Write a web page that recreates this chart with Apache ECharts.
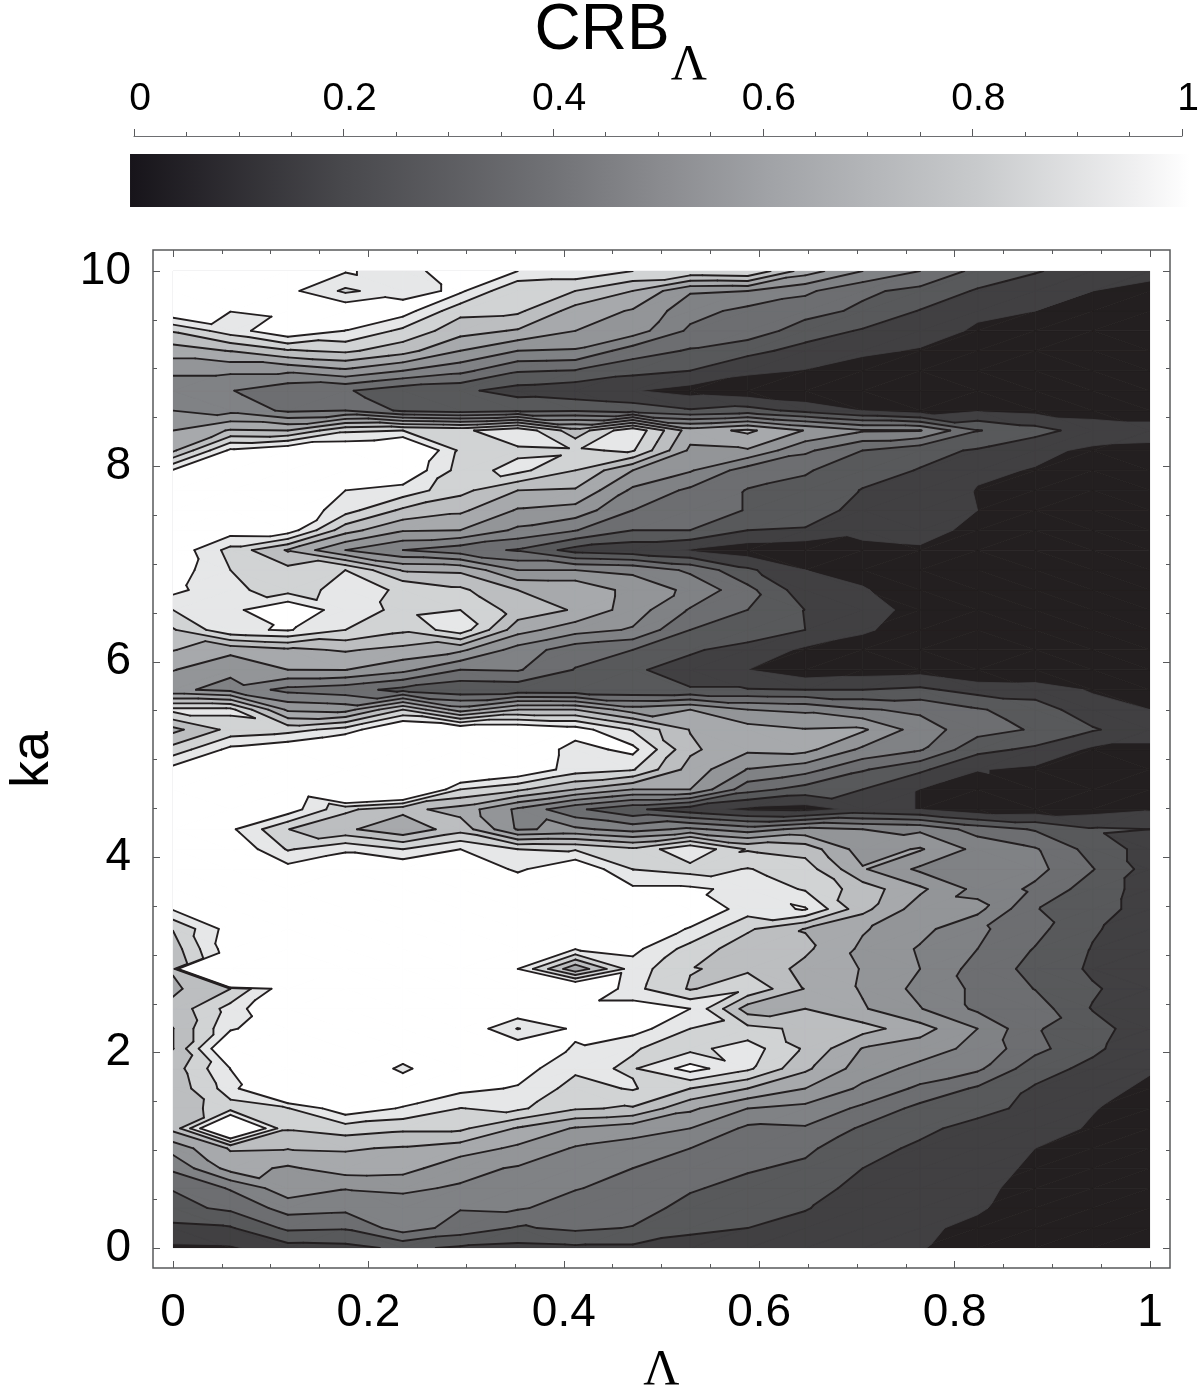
<!DOCTYPE html>
<html>
<head>
<meta charset="utf-8">
<style>
  html, body { margin: 0; padding: 0; background: #fff; }
  #chart { width: 1200px; height: 1393px; }
</style>
<script src="https://cdn.jsdelivr.net/npm/echarts@6/dist/echarts.min.js"></script>
</head>
<body>
<div id="chart"></div>
<script>
// CRB over the (lambda, ka) mesh, one array per lambda, bottom row (ka = 0) first.
// values are in contour steps: a contour line sits on every whole number from 1 to 10
const crb00 = [.8,1.75,2.7,3.05,4.2,5.4,7.3,7.35,7.3,7.5, 6.98,6.98,7.3,6.8,7.1,7.5,8.05,10.1,10.6,10.8, 11,11,11,10.8,10.4,8.4,6.7,9.3,5.2,6.05, 7.05,7.9,9,10.3,10.6,10.8,11,11,10.8,10.1, 6.8,6,5,4.4,5.2,6.5,8.1,11,10.4,10.2]
const crb01 = [.85,1.9,3.2,4.1,6.4,7.1,13,8.6,9.5,10.02, 11.5,9.85,9.4,8,40,10.7,10.5,10.5,11,11, 11,10.2,11,10.8,10.6,10.3,8.3,9.3,4.7,5.2, 6.3,9.8,9.7,9.2,9,8.65,10.55,11,11,10.8, 10.2,7.1,4.7,4.05,5.2,7.05,9.5,10.02,10.6,10.8]
const crb02 = [1.6,3.2,4.4,5.6,5.85,7.05,8.1,8.95,13,12, 12,11,11.5,10.8,45,10.8,10.8,11,11,10.4, 8.9,8.02,10.6,11,11,10.9,8.6,5.8,3.7,6, 6.8,10.1,11,8.6,8.3,6.9,10.6,11,11,11, 10.9,7,3.8,3.3,5.2,7.9,10.9,10.2,10.3,10.8]
const crb03 = [1.7,3.1,4.25,5.05,6.5,7.1,8.5,10.7,11.5,11.5, 11.5,11.5,11.5,11.5,11.5,11,11,11,11,11, 9.8,7.2,8.2,14,11.5,12,9.4,5.6,3.4,6.02, 7.1,9,9.4,9.3,9,5,7.4,9.4,10,11, 11,8.8,4,3.1,5.8,8.2,9.98,10.9,8.8,10.1]
const crb04 = [2.2,4.5,4.6,5.15,6.4,6.9,8.2,9.9,11,9.7, 11,11,11,11,11,11,11,11,11,11, 9,6.2,7.3,13,11,11,11.5,8,2.7,5.3, 6.7,8.2,8.8,8.9,6.9,4,6.1,7.8,9.6,11, 12,9,2.8,2.4,5,7.4,8.75,10.5,9.6,9.6]
const crb05 = [1.85,3.6,4.05,4.9,5.3,6.5,8.2,8.98,10.3,11.5, 11,11,11,11,11,11,11,11,11,11, 10,7.6,6.6,9,12,11,11,5.5,2.2,4, 6.2,9.6,9,8.2,6.8,3.4,6,7.2,8.3,8.6, 8.8,8.75,2.5,2.2,4.3,6,7.4,8.3,10.2,10.6]
const crb06 = [1.7,2.9,4.1,4.5,4.9,5.8,6.9,9.2,9.9,10.5, 10.8,8.95,11,11,10,11,11,11,11,9.8, 9,4.9,4.8,8.2,11,11,11,7,2.3,4.1, 4.6,6.4,7.6,7,5,2.9,4.8,5.9,7,9.3, 8.8,9.8,2.8,1.6,3.1,5,6.9,8.2,8,10]
const crb07 = [1.8,3.2,3.6,4.05,4.5,4.9,5.9,8.1,8.6,9.2, 9.9,10.2,10.5,12,6.2,10.05,11,11,11,11, 8.9,5.2,3.2,7,9.5,9.6,10.5,7,2.2,2.95, 3.4,5.4,6.9,6.9,5,1.6,4.05,5.6,6.9,8, 8.9,7.4,2.9,1.3,2.95,4.9,6,6.6,8,9.7]
const crb08 = [1.8,2.95,3.4,3.7,4,4.6,5.4,7.9,9.1,8.9, 9.05,10.5,10.5,9.3,9.5,10.3,11,11,10.2,8.98, 8.2,4.6,2.2,6,9.1,10.3,8.9,5.5,2.1,2.1, 3,4.9,5.5,5.6,4.8,1.3,3,4,4.8,6, 9.1,9.8,2.6,1.05,2.3,3.5,5.5,5.9,7,9]
const crb09 = [1.6,2.2,2.7,3.1,3.6,4,5,6.2,8,10.4, 8.7,9,10,7.9,8.05,8.6,9.9,11,10.2,8.6, 9.9,5.2,1.4,6,6.6,7.2,6.95,6,2.05,1.7, 2.1,3,3.9,4.8,3.8,.9,3,3.5,3.8,5.1, 5.8,6.5,2.1,.6,2,2.9,3.8,4.4,5.1,8.8]
const crb10 = [1.5,2,2.3,2.7,3.1,3.4,3.8,5,7,9.2, 9.5,8.3,6.5,8.8,7.8,7.4,8.15,9.5,9.7,9.05, 7.9,4.5,.7,3.4,4.95,6.2,6.4,5,2.05,1, 1.7,2.5,3,3.3,2.2,.4,2,2.95,2.95,3.5, 5.9,7.2,2.4,.3,1.2,2.3,3.6,3.7,5,9]
const crb11 = [1.3,1.7,2.05,2.4,2.8,3.2,3.9,4.7,6,7.2, 7.85,7.8,7,6.95,6.7,7.2,6.95,10.1,8.9,8.5, 7.6,5.3,.5,2.6,4.4,6.3,6.05,4.8,2,.3, .8,2,1.98,1.4,1,.2,1.9,2.6,2.7,3.1, 4.2,5.95,1.7,0,.95,1.65,2.5,3.4,4.2,6.5]
const crb12 = [1.25,1.4,1.55,1.7,2,2.3,2.85,3.8,4.8,5.5, 5.95,7.4,6.1,5.9,5.95,5.8,6.1,7.3,7.5,6.1, 5.5,5,1.3,2,3.1,4.8,6.15,4.1,2,.5, .3,1.2,1.5,1.1,.6,.7,1.3,1.6,1.95,2.4, 3,5.1,.95,0,.5,1.2,1.9,2.8,3.2,5]
const crb13 = [1.05,1.15,1.3,1.4,1.6,1.85,2.2,2.7,3.8,4.7, 5.5,6.4,5.05,4.7,5,4.9,5.3,5.5,6.2,4.8, 6.1,4.8,.97,.97,2.2,4.1,4.5,3.8,2.2,.6, .2,.3,.6,.3,.2,.85,1.4,1.6,1.7,1.95, 2.3,5.05,.4,0,0,.9,1.5,1.95,2.7,4]
const crb14 = [.6,.8,1.1,1.2,1.35,1.6,1.7,2.3,2.85,4.2, 4.7,5,3.8,3.8,3.6,4,4.2,5.3,4.7,5, 4.7,3.6,.3,.4,1.05,2.3,3.4,3.1,1.6,0, 0,0,0,0,0,0,.7,1,.95,1.15, 1.9,3.05,.9,0,0,.2,.85,1.2,1.9,2.7]
const crb15 = [.3,.4,.55,.7,.85,1,1.4,1.75,1.9,2.4, 3.3,3.1,3.5,2.97,2.7,2.95,3.3,3.05,3.8,4.3, 4.1,2.9,.4,.8,.8,1.8,2.9,2.5,1.5,.1, 0,0,0,0,0,0,0,0,.1,.95, 1.2,2.4,.7,0,0,0,.4,1,1.3,2.1]
const crb16 = [.2,.3,.4,.5,.6,.75,.9,1.05,1.35,1.75, 2.2,2.4,1.95,2.1,1.85,1.95,2.1,2.4,2.5,3.05, 2.6,2.1,.6,.6,.3,.8,2.1,1.4,.9,0, 0,0,0,0,0,0,0,0,0,0, .85,1.5,.6,0,0,0,0,.4,1,1.4]
const crb17 = [.1,.15,.2,.25,.3,.4,.5,.6,.8,1.1, 1.3,1.4,1.45,1.5,1.5,1.5,1.5,1.6,1.6,1.6, 1.6,2,.9,.5,.5,.8,1.4,1,.6,0, 0,0,0,0,0,0,0,0,.2,.3, .8,1.3,.6,0,0,0,0,.3,.7,1.3]
const crbColumns = [crb00, crb01, crb02, crb03, crb04, crb05, crb06, crb07, crb08, crb09, crb10, crb11, crb12, crb13, crb14, crb15, crb16, crb17]

const lambdaValues = [0, .0588, .1176, .1765, .2353, .2941, .3529, .4118, .4706, .5294, .5882, .6471, .7059, .7647, .8235, .8824, .9412, 1]
const kaValues = crb00.map((v, j) => j * 10 / 49)

// fill of each band between two contour lines, darkest first
const bandColors = ['#231f20', '#414042', '#58595b', '#6d6e71', '#808285', '#939598', '#a7a9ac', '#bcbec0', '#d1d3d4', '#e6e7e8', '#ffffff']
const lineColor = '#231f20'

const colorbarValues = [0, .2, .4, .5, .6, .8, .95, 1]
const colorbarGrays = ['#17141a', '#48484c', '#717276', '#8a8b8f', '#a0a2a6', '#c8cacc', '#f0f0f1', '#ffffff']

const cells = []
for (let i = 0; i < lambdaValues.length - 1; i++) {
  for (let j = 0; j < kaValues.length - 1; j++) {
    cells.push([i, j])
  }
}

const meshPoint = (i, j) => [lambdaValues[i], kaValues[j], crbColumns[i][j]]
// each cell splits along the diagonal whose two ends are closest in value
const cellTriangles = (i, j) => {
  const a = meshPoint(i, j)
  const b = meshPoint(i + 1, j)
  const c = meshPoint(i + 1, j + 1)
  const d = meshPoint(i, j + 1)
  if (Math.abs(b[2] - d[2]) <= Math.abs(a[2] - c[2])) {
    return [[a, b, d], [b, c, d]]
  }
  return [[a, b, c], [a, c, d]]
}
const crossing = (a, b, level) => {
  const t = (level - a[2]) / (b[2] - a[2])
  return [a[0] + (b[0] - a[0]) * t, a[1] + (b[1] - a[1]) * t]
}
const partAbove = (tri, level) => {
  const points = []
  const cuts = []
  tri.forEach((a, n) => {
    const b = tri[(n + 1) % 3]
    if (a[2] >= level) points.push([a[0], a[1]])
    if ((a[2] >= level) !== (b[2] >= level)) {
      const c = crossing(a, b, level)
      points.push(c)
      cuts.push(c)
    }
  })
  return { points, cuts }
}

// one series per band, so a lighter band is always painted over the darker one below it
const bandRenderer = (level) => (params, api) => {
  const children = []
  cellTriangles(api.value(0), api.value(1)).forEach(tri => {
    const pts = partAbove(tri, level).points
    if (pts.length > 2) {
      children.push({
        type: 'polygon',
        shape: { points: pts.map(p => api.coord([p[0], p[1]])) },
        style: { fill: bandColors[level], stroke: bandColors[level], lineWidth: 0.8 }
      })
    }
  })
  return { type: 'group', children }
}

const renderLines = (params, api) => {
  const children = []
  cellTriangles(api.value(0), api.value(1)).forEach(tri => {
    // the first contour has the same colour as the darkest band so it is left out
    for (let k = 2; k <= 10; k++) {
      const cuts = partAbove(tri, k).cuts
      if (cuts.length === 2) {
        const a = api.coord(cuts[0])
        const b = api.coord(cuts[1])
        children.push({
          type: 'line',
          shape: { x1: a[0], y1: a[1], x2: b[0], y2: b[1] },
          style: { stroke: lineColor, lineWidth: 1.9, lineCap: 'round' }
        })
      }
    }
  })
  return { type: 'group', children }
}

const renderColorbar = (params, api) => {
  const topLeft = api.coord([-0.0038, 1])
  const bottomRight = api.coord([1.0076, 0])
  return {
    type: 'rect',
    shape: { x: topLeft[0], y: topLeft[1], width: bottomRight[0] - topLeft[0], height: bottomRight[1] - topLeft[1] },
    style: {
      fill: new echarts.graphic.LinearGradient(0, 0, 1, 0, colorbarValues.map((v, n) => ({ offset: v, color: colorbarGrays[n] })))
    }
  }
}

const tickAxis = (extra) => Object.assign({
  type: 'value',
  gridIndex: 1,
  axisLine: { show: false, onZero: false },
  axisTick: { show: true, inside: true, length: 7, lineStyle: { color: '#58595b', width: 1 } },
  minorTick: { show: true, splitNumber: 4, length: 4, lineStyle: { color: '#58595b', width: 1 } },
  splitLine: { show: false }
}, extra)

const labelStyle = { color: '#000', fontFamily: 'Liberation Sans', fontSize: 46 }
const noLabel = { show: false }

const bandSeries = bandColors.map((color, level) => ({
  type: 'custom',
  name: 'band' + level,
  xAxisIndex: 1,
  yAxisIndex: 1,
  clip: true,
  silent: true,
  data: cells,
  renderItem: bandRenderer(level),
  z: 2
}))

const myChart = echarts.init(document.getElementById('chart'), null, { renderer: 'canvas' })
const option = {
  animation: false,
  backgroundColor: '#fff',
  grid: [
    { left: 153, top: 250, width: 1017, height: 1018, outerBoundsMode: 'none', show: true, borderColor: '#58595b', borderWidth: 1.5, backgroundColor: '#fff' },
    { left: 173, top: 271, width: 977, height: 977, outerBoundsMode: 'none', show: true, borderColor: '#e6e7e8', borderWidth: 1 },
    { left: 134, top: 154, width: 1048, height: 53, outerBoundsMode: 'none' }
  ],
  xAxis: [
    { type: 'value', gridIndex: 0, show: false, min: 0, max: 1 },
    tickAxis({
      position: 'bottom', offset: 20, min: 0, max: 1, interval: 0.2,
      axisLabel: Object.assign({ margin: 22 }, labelStyle),
      name: 'Λ', nameLocation: 'middle', nameGap: 78,
      nameTextStyle: { color: '#000', fontFamily: 'Liberation Serif', fontSize: 50 }
    }),
    tickAxis({ position: 'top', offset: 21, min: 0, max: 1, interval: 0.2, axisLabel: noLabel }),
    {
      type: 'value', gridIndex: 2, position: 'top', offset: 18, min: 0, max: 1, interval: 0.2,
      axisLine: { show: true, onZero: false, lineStyle: { color: '#6d6e71', width: 1.2 } },
      axisTick: { show: true, length: 7, lineStyle: { color: '#58595b', width: 1 } },
      minorTick: { show: true, splitNumber: 4, length: 4, lineStyle: { color: '#58595b', width: 1 } },
      splitLine: { show: false },
      axisLabel: { color: '#000', fontFamily: 'Liberation Sans', fontSize: 39, margin: 17, padding: [0, 0, 0, 12] }
    }
  ],
  yAxis: [
    { type: 'value', gridIndex: 0, show: false, min: 0, max: 1 },
    tickAxis({
      position: 'left', offset: 20, min: 0, max: 10, interval: 2,
      axisLabel: Object.assign({ margin: 22 }, labelStyle),
      name: 'ka', nameLocation: 'middle', nameGap: 93, nameRotate: 90,
      nameTextStyle: { color: '#000', fontFamily: 'Liberation Sans', fontSize: 54 }
    }),
    tickAxis({ position: 'right', offset: 20, min: 0, max: 10, interval: 2, axisLabel: noLabel }),
    { type: 'value', gridIndex: 2, show: false, min: 0, max: 1 }
  ],
  series: bandSeries.concat([
    { type: 'custom', name: 'contours', xAxisIndex: 1, yAxisIndex: 1, clip: true, silent: true, data: cells, renderItem: renderLines, z: 3 },
    { type: 'custom', name: 'colorbar', xAxisIndex: 3, yAxisIndex: 3, clip: false, silent: true, data: [[0, 0]], renderItem: renderColorbar, z: 2 }
  ]),
  graphic: [
    { type: 'text', x: 602, y: 31, style: { text: 'CRB', fill: '#000', font: '64px "Liberation Sans"', align: 'center', verticalAlign: 'middle' } },
    { type: 'text', x: 689, y: 66, style: { text: 'Λ', fill: '#000', font: '50px "Liberation Serif"', align: 'center', verticalAlign: 'middle' } }
  ]
}
myChart.setOption(option)
</script>
</body>
</html>
